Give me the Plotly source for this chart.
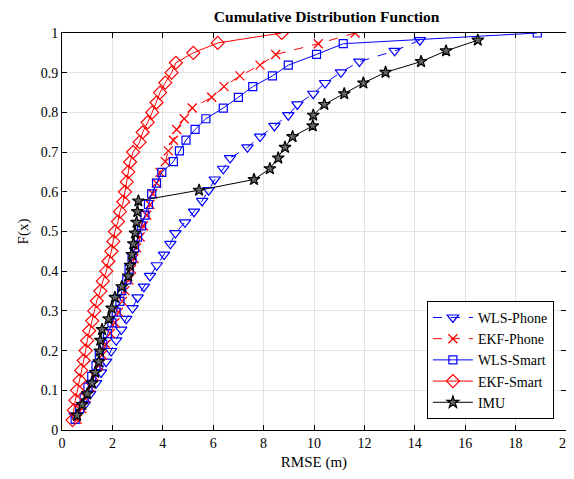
import plotly.graph_objects as go

# CDF levels
y_full = [1.0, 0.973, 0.946, 0.919, 0.892, 0.865, 0.838, 0.811, 0.784, 0.757,
          0.730, 0.703, 0.676, 0.649, 0.622, 0.595, 0.568, 0.541, 0.514, 0.486,
          0.459, 0.432, 0.405, 0.378, 0.351, 0.324, 0.297, 0.270, 0.243, 0.216,
          0.189, 0.162, 0.135, 0.108, 0.081, 0.054, 0.027]
y_short = [0.982, 0.955, 0.928, 0.901, 0.874, 0.847, 0.820, 0.793, 0.766, 0.739,
           0.712, 0.685, 0.658, 0.631, 0.604, 0.577, 0.550, 0.523, 0.496, 0.469,
           0.442, 0.415, 0.388, 0.361, 0.334, 0.307, 0.280, 0.253, 0.226, 0.199,
           0.172, 0.145, 0.118, 0.091, 0.064, 0.037]
y_ekf_smart = [1.0, 0.975, 0.95, 0.925, 0.9, 0.875, 0.85, 0.825, 0.8, 0.775,
               0.75, 0.725, 0.7, 0.675, 0.65, 0.625, 0.6, 0.575, 0.55, 0.525,
               0.5, 0.475, 0.45, 0.425, 0.4, 0.375, 0.35, 0.325, 0.3, 0.275,
               0.25, 0.225, 0.2, 0.175, 0.15, 0.125, 0.1, 0.075, 0.05, 0.025]

x_wls_phone = [14.2, 13.2, 11.8, 11.07, 10.44, 9.97, 9.34, 8.98, 8.43, 7.86,
               7.36, 6.67, 6.40, 6.06, 5.82, 5.56, 5.24, 4.88, 4.50, 4.30,
               4.05, 3.76, 3.49, 3.25, 3.00, 2.80, 2.55, 2.35, 2.15, 1.95,
               1.75, 1.55, 1.35, 1.12, 0.90, 0.50]
x_ekf_phone = [11.63, 10.17, 8.48, 7.86, 7.06, 6.43, 5.94, 5.17, 4.85, 4.55,
               4.42, 4.22, 4.10, 3.89, 3.75, 3.60, 3.49, 3.36, 3.23, 3.10,
               2.96, 2.86, 2.76, 2.65, 2.50, 2.40, 2.25, 2.10, 1.92, 1.75,
               1.60, 1.45, 1.28, 1.12, 0.95, 0.78, 0.60]
x_wls_smart = [18.86, 11.16, 10.1, 8.98, 8.35, 7.57, 7.0, 6.4, 5.71, 5.28,
               4.92, 4.66, 4.42, 3.96, 3.75, 3.56, 3.43, 3.29, 3.16, 3.00,
               2.88, 2.78, 2.66, 2.57, 2.37, 2.30, 2.15, 1.98, 1.80, 1.62,
               1.48, 1.35, 1.18, 1.03, 0.88, 0.70, 0.52]
x_ekf_smart = [8.72, 6.18, 5.21, 4.52, 4.35, 4.10, 3.89, 3.75, 3.58, 3.40,
               3.20, 3.08, 2.82, 2.70, 2.63, 2.57, 2.50, 2.43, 2.30, 2.22,
               2.10, 2.04, 1.96, 1.84, 1.76, 1.62, 1.52, 1.38, 1.28, 1.20,
               1.08, 1.00, 0.94, 0.86, 0.76, 0.70, 0.60, 0.53, 0.47, 0.42]
x_imu = [16.5, 15.24, 14.25, 12.84, 11.96, 11.2, 10.41, 9.97, 9.95, 9.15,
         8.85, 8.58, 8.25, 7.62, 5.44, 3.03, 2.99, 2.96, 2.90, 2.83,
         2.77, 2.70, 2.63, 2.37, 2.10, 1.97, 1.85, 1.59, 1.52, 1.50,
         1.46, 1.32, 1.19, 1.00, 0.80, 0.60]

FONT = "'Liberation Serif', 'Times New Roman', Times, serif"

fig = go.Figure()
fig.add_trace(go.Scatter(x=x_wls_phone, y=y_short, name="WLS-Phone", mode="lines+markers",
                         line=dict(color="blue", width=1, dash="dash"),
                         marker=dict(symbol="triangle-down-open", size=10, color="blue", line=dict(width=1.2))))
fig.add_trace(go.Scatter(x=x_ekf_phone, y=y_full, name="EKF-Phone", mode="lines+markers",
                         line=dict(color="red", width=1, dash="dash"),
                         marker=dict(symbol="x-thin-open", size=9, color="red", line=dict(width=1.3, color="red"))))
fig.add_trace(go.Scatter(x=x_wls_smart, y=y_full, name="WLS-Smart", mode="lines+markers",
                         line=dict(color="blue", width=1),
                         marker=dict(symbol="square-open", size=8, color="blue", line=dict(width=1.2))))
fig.add_trace(go.Scatter(x=x_ekf_smart, y=y_ekf_smart, name="EKF-Smart", mode="lines+markers",
                         line=dict(color="red", width=1),
                         marker=dict(symbol="diamond-open", size=10, color="red", line=dict(width=1.2))))
fig.add_trace(go.Scatter(x=x_imu, y=y_short, name="IMU", mode="lines+markers",
                         line=dict(color="black", width=1),
                         marker=dict(symbol="star", size=9, color="#666666", line=dict(width=1.2, color="black"))))

axis = dict(showline=True, linecolor="black", linewidth=1, mirror="ticks",
            ticks="inside", ticklen=5, tickcolor="black", automargin=False,
            showgrid=True, gridcolor="#e3e3e3", gridwidth=1, zeroline=False,
            ticklabeloverflow="allow",
            tickfont=dict(family=FONT, size=14, color="black"))

# page has an 8px body margin, so the figure is sized to fit inside it
fig.update_layout(
    width=566, height=463,
    margin=dict(l=54, r=8, t=25, b=41),
    paper_bgcolor="white", plot_bgcolor="white",
    font=dict(family=FONT, size=14, color="black"),
    title=dict(text="<b>Cumulative Distribution Function</b>", x=0.563, xanchor="center",
               y=0.981, yanchor="middle", font=dict(family=FONT, size=15.5), automargin=False),
    xaxis=dict(axis, range=[0, 20], dtick=2,
               title=dict(text="RMSE (m)", font=dict(family=FONT, size=15), standoff=9)),
    yaxis=dict(axis, range=[0, 1], dtick=0.1,
               title=dict(text="F(x)", font=dict(family=FONT, size=15), standoff=8)),
    legend=dict(x=0.976, y=0.028, xanchor="right", yanchor="bottom",
                bordercolor="black", borderwidth=1, bgcolor="white",
                font=dict(family=FONT, size=14), tracegroupgap=0, itemwidth=40),
    showlegend=True,
)

fig.write_html("out.html")
